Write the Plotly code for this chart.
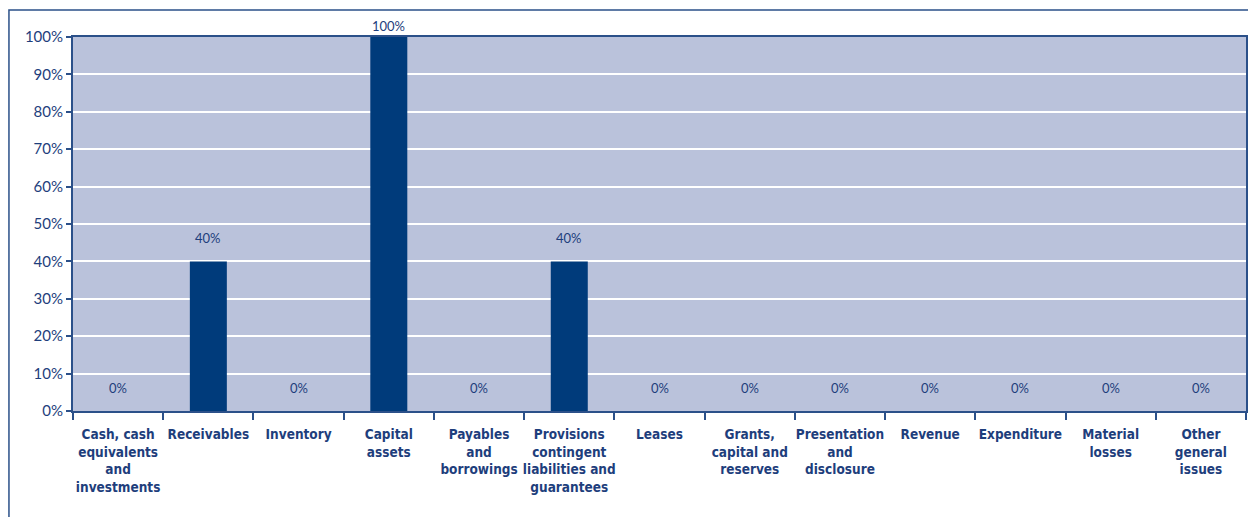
import plotly.graph_objects as go

categories = [
    "Cash, cash<br>equivalents<br>and<br>investments",
    "Receivables",
    "Inventory",
    "Capital<br>assets",
    "Payables<br>and<br>borrowings",
    "Provisions<br>contingent<br>liabilities and<br>guarantees",
    "Leases",
    "Grants,<br>capital and<br>reserves",
    "Presentation<br>and<br>disclosure",
    "Revenue",
    "Expenditure",
    "Material<br>losses",
    "Other<br>general<br>issues",
]
values = [0, 40, 0, 100, 0, 40, 0, 0, 0, 0, 0, 0, 0]
y_ticks = [0, 10, 20, 30, 40, 50, 60, 70, 80, 90, 100]
y_tick_labels = [f"{t}%" for t in y_ticks]

BAR = "#003B7B"
BG = "#BAC2DB"
TXT = "#1E3E7C"
AXIS = "#2B5089"

fig = go.Figure()
fig.add_trace(go.Bar(
    x=categories, y=values, marker=dict(color=BAR, line=dict(width=0)),
    width=0.41, hoverinfo="skip",
))

for c, v in zip(categories, values):
    fig.add_annotation(
        x=c, y=v, text=f"{v}%", showarrow=False, yanchor="bottom",
        yshift=1 if v >= 100 else 13,
        font=dict(family="Lato, DejaVu Sans", size=13, color=TXT),
    )

fig.update_layout(
    width=1248, height=517,
    margin=dict(l=73, r=2, t=37, b=106),
    paper_bgcolor="white", plot_bgcolor=BG,
    showlegend=False, bargap=0.59,
)
fig.update_xaxes(
    showline=True, linecolor=AXIS, linewidth=2, mirror=True,
    ticks="outside", ticklen=7, tickcolor=AXIS, tickwidth=2,
    tickson="boundaries", showgrid=False, tickangle=0, automargin=False,
    tickfont=dict(family="DejaVu Sans Condensed", size=13.5,
                  color=TXT, weight="bold"),
    ticklabelstandoff=10,
)
fig.update_yaxes(
    range=[0, 100], tickvals=y_ticks, ticktext=y_tick_labels,
    showline=True, linecolor=AXIS, linewidth=2, mirror=True,
    ticks="outside", ticklen=5, tickcolor=AXIS, tickwidth=2, automargin=False,
    showgrid=True, gridcolor="white", gridwidth=2, zeroline=False,
    tickfont=dict(family="Lato, DejaVu Sans", size=15, color=TXT),
)

# outer frame
fig.add_shape(type="rect", xref="paper", yref="paper",
              x0=-0.0546, x1=1.004, y0=-0.5, y1=1.072,
              line=dict(color=AXIS, width=1.5), fillcolor="rgba(0,0,0,0)", layer="above")

fig.write_html("out.html")
